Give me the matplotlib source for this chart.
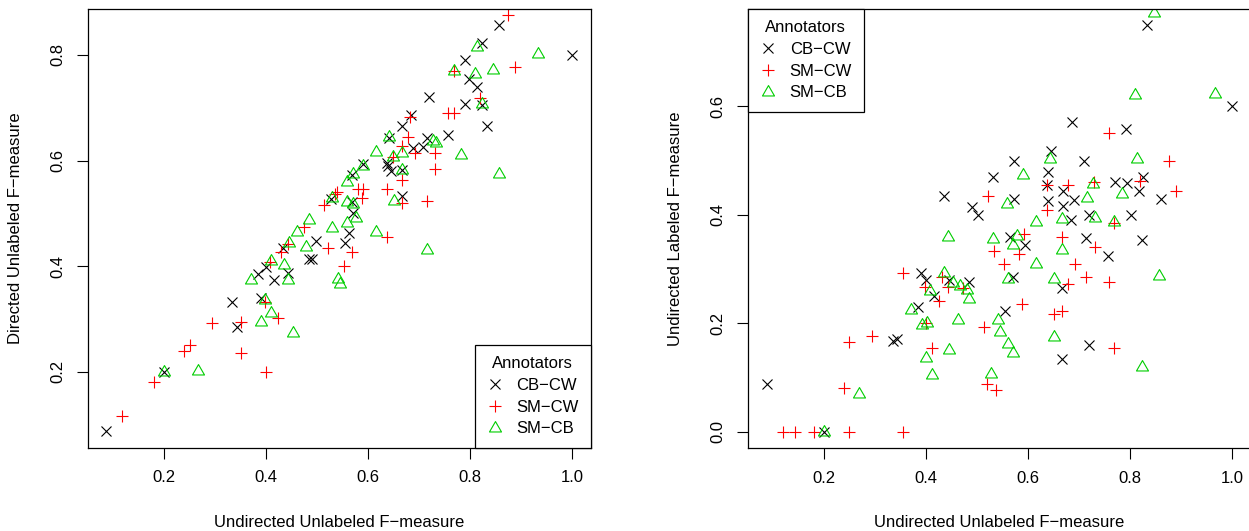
import matplotlib
matplotlib.use('Agg')
import matplotlib.pyplot as plt
from matplotlib.path import Path

plt.rcParams['font.family'] = ['Liberation Sans', 'DejaVu Sans']
plt.rcParams['font.size'] = 12

# left panel: undirected unlabeled (x) vs directed unlabeled (y)
l_cbcw_x = [0.086, 0.200, 0.333, 0.343, 0.390, 0.385, 0.400, 0.416, 0.444, 0.434, 0.485, 0.490, 0.499,
            0.527, 0.555, 0.563, 0.568, 0.568, 0.570, 0.591, 0.637, 0.640, 0.645, 0.666, 0.666, 0.641,
            0.666, 0.684, 0.688, 0.708, 0.715, 0.720, 0.756, 0.791, 0.824, 0.833, 0.799, 0.814, 0.791,
            0.823, 0.857, 1.000]
l_cbcw_y = [0.087, 0.200, 0.333, 0.284, 0.340, 0.385, 0.399, 0.374, 0.388, 0.434, 0.414, 0.414, 0.448,
            0.527, 0.443, 0.462, 0.573, 0.522, 0.500, 0.593, 0.595, 0.590, 0.580, 0.583, 0.533, 0.642,
            0.666, 0.686, 0.623, 0.625, 0.642, 0.720, 0.648, 0.708, 0.706, 0.666, 0.755, 0.740, 0.791,
            0.823, 0.857, 0.800]

l_smcw_x = [0.118, 0.181, 0.240, 0.251, 0.295, 0.352, 0.352, 0.400, 0.399, 0.424, 0.408, 0.429, 0.444,
            0.475, 0.514, 0.521, 0.535, 0.540, 0.554, 0.568, 0.581, 0.591, 0.588, 0.637, 0.637, 0.650,
            0.666, 0.666, 0.666, 0.678, 0.682, 0.692, 0.715, 0.731, 0.731, 0.757, 0.769, 0.769, 0.820,
            0.888, 0.875]
l_smcw_y = [0.117, 0.181, 0.240, 0.251, 0.293, 0.295, 0.235, 0.200, 0.333, 0.302, 0.407, 0.427, 0.442,
            0.475, 0.516, 0.434, 0.537, 0.540, 0.400, 0.427, 0.546, 0.546, 0.529, 0.546, 0.455, 0.607,
            0.563, 0.519, 0.628, 0.644, 0.683, 0.614, 0.523, 0.615, 0.585, 0.690, 0.690, 0.770, 0.719,
            0.778, 0.876]

l_smcb_x = [0.200, 0.267, 0.371, 0.390, 0.399, 0.410, 0.409, 0.436, 0.444, 0.445, 0.454, 0.461, 0.478,
            0.484, 0.529, 0.529, 0.542, 0.545, 0.558, 0.559, 0.559, 0.571, 0.571, 0.576, 0.590, 0.616,
            0.616, 0.642, 0.650, 0.652, 0.666, 0.666, 0.715, 0.727, 0.733, 0.782, 0.769, 0.810, 0.813,
            0.824, 0.846, 0.857, 0.933]
l_smcb_y = [0.200, 0.2015, 0.373, 0.295, 0.336, 0.311, 0.409, 0.402, 0.373, 0.4445, 0.274, 0.464, 0.437,
            0.4875, 0.472, 0.529, 0.375, 0.366, 0.560, 0.522, 0.482, 0.575, 0.518, 0.491, 0.590, 0.617,
            0.464, 0.644, 0.607, 0.524, 0.614, 0.583, 0.431, 0.637, 0.633, 0.611, 0.770, 0.764, 0.8146,
            0.707, 0.772, 0.575, 0.802]

# right panel: undirected unlabeled (x) vs undirected labeled (y)
r_cbcw_x = [0.087, 0.200, 0.334, 0.342, 0.3845, 0.390, 0.400, 0.416, 0.445, 0.483, 0.435, 0.4895, 0.501,
            0.530, 0.5547, 0.5645, 0.571, 0.594, 0.572, 0.572, 0.637, 0.638, 0.639, 0.644, 0.666, 0.666,
            0.668, 0.668, 0.6836, 0.686, 0.689, 0.7097, 0.7137, 0.720, 0.720, 0.7563, 0.771, 0.7925,
            0.794, 0.8014, 0.8165, 0.8236, 0.8255, 0.834, 0.860, 1.000]
r_cbcw_y = [0.0875, 0.000, 0.167, 0.172, 0.2306, 0.293, 0.280, 0.250, 0.279, 0.277, 0.435, 0.415, 0.400,
            0.4705, 0.2227, 0.360, 0.286, 0.3445, 0.429, 0.500, 0.455, 0.426, 0.480, 0.517, 0.2657, 0.1335,
            0.445, 0.417, 0.3906, 0.571, 0.4275, 0.500, 0.357, 0.400, 0.160, 0.3247, 0.461, 0.5585,
            0.458, 0.400, 0.444, 0.3537, 0.4705, 0.750, 0.4288, 0.600]

r_smcw_x = [0.118, 0.142, 0.180, 0.249, 0.354, 0.239, 0.249, 0.293, 0.354, 0.398, 0.400, 0.411, 0.424,
            0.430, 0.443, 0.473, 0.514, 0.520, 0.537, 0.522, 0.533, 0.553, 0.582, 0.5874, 0.592, 0.637,
            0.637, 0.651, 0.666, 0.666, 0.679, 0.679, 0.692, 0.7137, 0.729, 0.7314, 0.759, 0.759, 0.769,
            0.769, 0.820, 0.877, 0.890]
r_smcw_y = [0.000, 0.000, 0.000, 0.000, 0.000, 0.080, 0.166, 0.1765, 0.293, 0.2664, 0.201, 0.154, 0.2417,
            0.286, 0.2675, 0.2645, 0.194, 0.088, 0.077, 0.435, 0.3334, 0.3088, 0.327, 0.2356, 0.365, 0.455,
            0.409, 0.217, 0.223, 0.360, 0.272, 0.455, 0.3088, 0.286, 0.461, 0.3413, 0.2768, 0.552, 0.385,
            0.155, 0.463, 0.500, 0.445]

r_smcb_x = [0.200, 0.267, 0.370, 0.391, 0.401, 0.400, 0.411, 0.4075, 0.4355, 0.445, 0.443, 0.453, 0.462,
            0.466, 0.4795, 0.4846, 0.5266, 0.530, 0.5415, 0.545, 0.558, 0.560, 0.560, 0.571, 0.571, 0.578,
            0.589, 0.6155, 0.616, 0.643, 0.651, 0.651, 0.666, 0.667, 0.715, 0.728, 0.731, 0.769, 0.784,
            0.810, 0.813, 0.823, 0.846, 0.857, 0.966]
r_smcb_y = [0.000, 0.0695, 0.2245, 0.197, 0.201, 0.1354, 0.1046, 0.260, 0.293, 0.151, 0.360, 0.275, 0.207,
            0.269, 0.2614, 0.244, 0.1065, 0.355, 0.206, 0.1845, 0.421, 0.2817, 0.162, 0.1446, 0.3445, 0.361,
            0.474, 0.3094, 0.3875, 0.5025, 0.281, 0.1753, 0.335, 0.392, 0.431, 0.457, 0.394, 0.3875, 0.438,
            0.621, 0.5025, 0.120, 0.772, 0.287, 0.6225]

labels = ['CB\u2212CW', 'SM\u2212CW', 'SM\u2212CB']
colors = ['black', '#FF0000', '#00CD00']
# open equilateral triangle like R's pch 2
tri = Path([(0, 0.577), (-0.5, -0.289), (0.5, -0.289), (0, 0)],
           [Path.MOVETO, Path.LINETO, Path.LINETO, Path.CLOSEPOLY])


def panel(ax, series, ylabel, loc):
    ax.plot(series[0][0], series[0][1], ls='none', marker='x', ms=6.8, mew=0.8,
            color=colors[0], label=labels[0])
    ax.plot(series[1][0], series[1][1], ls='none', marker='+', ms=8.6, mew=0.8,
            color=colors[1], label=labels[1])
    ax.plot(series[2][0], series[2][1], ls='none', marker=tri, ms=10, mew=0.8,
            mfc='none', mec=colors[2], label=labels[2])
    ax.set_xticks([0.2, 0.4, 0.6, 0.8, 1.0])
    ax.tick_params(direction='out', length=8, width=0.8, pad=8, labelsize=12)
    for lab in ax.get_yticklabels():
        lab.set_rotation(90)
        lab.set_va('center')
    for s in ax.spines.values():
        s.set_linewidth(0.9)
    ax.set_xlabel('Undirected Unlabeled F\u2212measure', fontsize=12)
    ax.set_ylabel(ylabel, fontsize=12)
    ax.xaxis.label.set_va('center')
    ax.yaxis.label.set_va('center')
    leg = ax.legend(loc=loc, title='Annotators', fontsize=12, title_fontsize=12,
                    fancybox=False, framealpha=1, edgecolor='black', borderaxespad=0,
                    handlelength=1.0, handletextpad=0.8, labelspacing=0.4, borderpad=0.7)
    leg.get_frame().set_linewidth(0.9)


fig = plt.figure(figsize=(12.49, 5.31), dpi=100)

ax1 = fig.add_axes([0.0702, 0.1563, 0.4027, 0.8267])
panel(ax1, [(l_cbcw_x, l_cbcw_y), (l_smcw_x, l_smcw_y), (l_smcb_x, l_smcb_y)],
      'Directed Unlabeled F\u2212measure', 'lower right')
ax1.set_xlim(0.0504, 1.0367)
ax1.set_ylim(0.0557, 0.887)
ax1.set_yticks([0.2, 0.4, 0.6, 0.8])
ax1.xaxis.set_label_coords(0.5, -0.1686)
ax1.yaxis.set_label_coords(-0.1445, 0.5)

ax2 = fig.add_axes([0.5989, 0.1557, 0.4025, 0.8279])
panel(ax2, [(r_cbcw_x, r_cbcw_y), (r_smcw_x, r_smcw_y), (r_smcb_x, r_smcb_y)],
      'Undirected Labeled F\u2212measure', 'upper left')
ax2.set_xlim(0.0502, 1.0367)
ax2.set_ylim(-0.0306, 0.7804)
ax2.set_yticks([0.0, 0.2, 0.4, 0.6])
ax2.xaxis.set_label_coords(0.5, -0.1677)
ax2.yaxis.set_label_coords(-0.145, 0.5)

fig.savefig('out.png', dpi=100)
